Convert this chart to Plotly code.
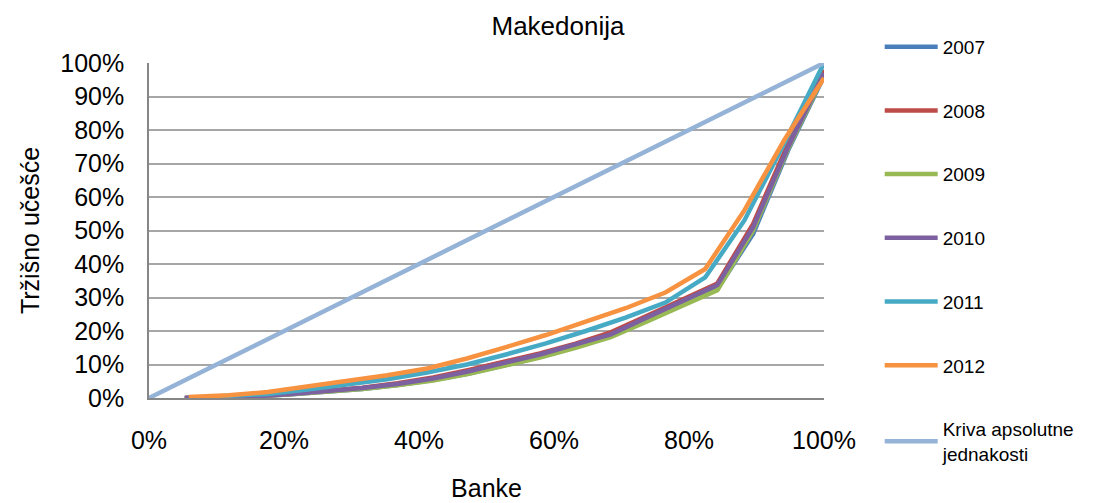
import plotly.graph_objects as go

# Cumulative share of banks (x) and cumulative market share (y)
years = ["2007", "2008", "2009", "2010", "2011", "2012"]

x19 = [0.053, 0.105, 0.158, 0.211, 0.263, 0.316, 0.368, 0.421, 0.474, 0.526,
       0.579, 0.632, 0.684, 0.737, 0.789, 0.842, 0.895, 0.947, 1.0]
x17 = [0.059, 0.118, 0.176, 0.235, 0.294, 0.353, 0.412, 0.471, 0.529, 0.588,
       0.647, 0.706, 0.765, 0.824, 0.882, 0.941, 1.0]

y2007 = [0.0, 0.002, 0.005, 0.011, 0.018, 0.027, 0.039, 0.054, 0.073, 0.097,
         0.122, 0.152, 0.184, 0.23, 0.277, 0.325, 0.49, 0.74, 0.96]
y2008 = [0.0, 0.002, 0.006, 0.013, 0.021, 0.031, 0.044, 0.061, 0.084, 0.108,
         0.133, 0.162, 0.196, 0.245, 0.293, 0.342, 0.52, 0.76, 0.98]
y2009 = [0.0, 0.002, 0.005, 0.011, 0.018, 0.027, 0.038, 0.052, 0.072, 0.096,
         0.121, 0.15, 0.182, 0.228, 0.275, 0.322, 0.5, 0.745, 0.965]
y2010 = [0.0, 0.002, 0.005, 0.012, 0.02, 0.03, 0.042, 0.058, 0.08, 0.104,
         0.13, 0.16, 0.19, 0.24, 0.287, 0.337, 0.51, 0.75, 0.97]
y2011 = [0.001, 0.005, 0.012, 0.025, 0.04, 0.056, 0.076, 0.1, 0.13, 0.163,
         0.2, 0.24, 0.285, 0.36, 0.53, 0.76, 1.0]
y2012 = [0.003, 0.008, 0.018, 0.035, 0.05, 0.068, 0.088, 0.118, 0.152, 0.188,
         0.228, 0.268, 0.315, 0.385, 0.56, 0.77, 0.955]

eq_x = [0.0, 1.0]
eq_y = [0.0, 1.0]
eq_name = "Kriva apsolutne<br>jednakosti"

xs = [x19, x19, x19, x19, x17, x17]
ys = [y2007, y2008, y2009, y2010, y2011, y2012]
colors = ["#4A7EBB", "#BE4B48", "#98B954", "#7D60A0", "#46AAC5", "#F69240"]

FONT = "Liberation Sans, Arial, sans-serif"

W, H = 1085, 495

fig = go.Figure()
for name, x, y, c in zip(years, xs, ys, colors):
    fig.add_trace(go.Scatter(x=x, y=y, mode="lines", name=name,
                             legendgroup=name,
                             line=dict(color=c, width=4.5)))
fig.add_trace(go.Scatter(x=eq_x, y=eq_y, mode="lines", name=eq_name,
                         legendgroup="eq",
                         line=dict(color="#95B3D7", width=4.5)))

fig.update_layout(
    width=W, height=H,
    margin=dict(l=141, r=269, t=55, b=105, autoexpand=False),
    paper_bgcolor="white", plot_bgcolor="white",
    font=dict(family=FONT, color="black"),
    title=dict(text="Makedonija", x=550 / W, xref="container", xanchor="center",
               y=1 - 18 / H, yref="container", yanchor="middle",
               automargin=False,
               font=dict(size=26, family=FONT, color="black")),
    legend=dict(x=1.0825, xanchor="left", y=1.105, yanchor="top",
                font=dict(size=19, family=FONT, color="black"),
                tracegroupgap=36, itemwidth=53, maxheight=480,
                bgcolor="rgba(0,0,0,0)"),
    showlegend=True,
)

fig.update_xaxes(range=[0, 1], dtick=0.2, tickformat=".0%",
                 showgrid=False, zeroline=False, automargin=False,
                 showline=True, linecolor="#868686", linewidth=1.5,
                 ticks="", ticklabelstandoff=19,
                 tickfont=dict(size=25, family=FONT, color="black"),
                 title=dict(text="Banke", standoff=27,
                            font=dict(size=25, family=FONT, color="black")))
fig.update_yaxes(range=[0, 1], dtick=0.1, tickformat=".0%",
                 showgrid=True, gridcolor="#A6A6A6", gridwidth=1.5,
                 zeroline=False, automargin=False,
                 showline=True, linecolor="#868686", linewidth=1.5,
                 ticks="", ticklabelstandoff=18,
                 tickfont=dict(size=25, family=FONT, color="black"),
                 title=dict(text="Tržišno učešće", standoff=14,
                            font=dict(size=25, family=FONT, color="black")))

fig.write_html("out.html")
